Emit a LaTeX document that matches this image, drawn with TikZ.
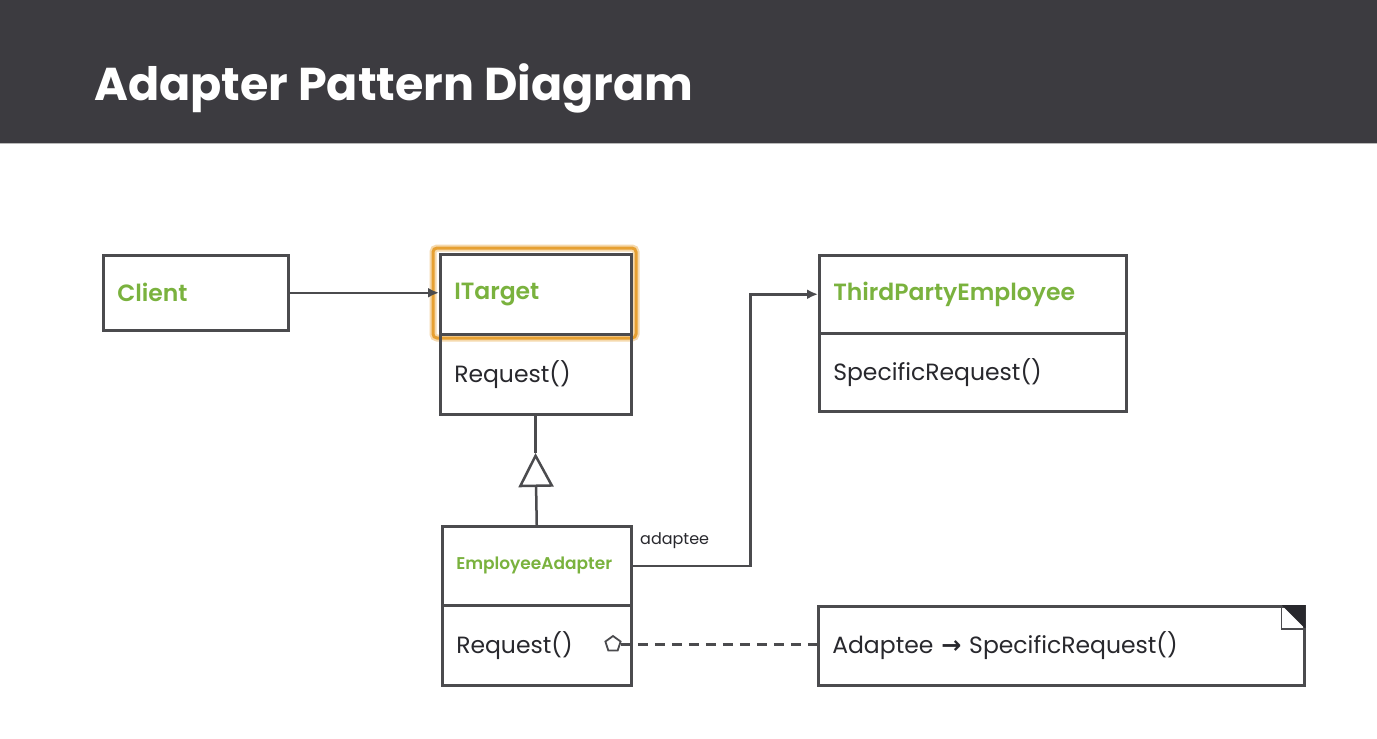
\documentclass[tikz,border=0pt]{standalone}
\usepackage{fontspec}
\setmainfont{Poppins}
\newfontfamily\pmed{Poppins SemiBold}
\newfontfamily\djv{DejaVu Sans}
\usetikzlibrary{arrows.meta,shapes.geometric}
\definecolor{hdr}{RGB}{60,59,64}
\definecolor{grn}{RGB}{122,178,62}
\definecolor{txt}{RGB}{40,40,45}
\definecolor{ln}{RGB}{75,75,78}
\definecolor{org}{RGB}{230,160,50}
\tikzset{
  cls/.style={draw=ln, line width=2.5pt, anchor=north west, inner xsep=14pt, inner ysep=0pt, align=left, text=txt},
  gname/.style={font=\pmed\fontsize{23.5}{28}\selectfont, text=grn},
  body/.style={font=\fontsize{23.5}{28}\selectfont},
  conn/.style={draw=ln, line width=2.5pt},
}
\begin{document}
\begin{tikzpicture}[x=1pt,y=-1pt]
\useasboundingbox (0,0) rectangle (1377,739);
\fill[white] (0,0) rectangle (1377,739);
\fill[hdr] (0,0) rectangle (1377,143);
\draw[gray!55, line width=1.5pt] (0,143.5) -- (1377,143.5);
\node[anchor=west, text=white, font=\bfseries\fontsize{46}{52}\selectfont, inner sep=0pt] (title) at (94,88) {Adapter Pattern Diagram};

% Client
\node[cls, gname, minimum width=185pt, minimum height=75pt, text width=157pt] (client) at (102,254) {Client};

% ITarget
\draw[org!40, line width=7pt, rounded corners=4pt] (433,248) rectangle (636,338);
\draw[org, line width=3pt, rounded corners=4pt] (433,248) rectangle (636,338);
\node[cls, gname, minimum width=191pt, minimum height=80pt, text width=163pt] (tgtA) at (439,253) {ITarget};
\node[cls, body, minimum width=191pt, minimum height=80pt, text width=163pt] (tgtB) at (439,333) {Request()};

% ThirdPartyEmployee
\node[cls, gname, minimum width=307pt, minimum height=78pt, text width=279pt] (tpeA) at (818,254) {ThirdPartyEmployee};
\node[cls, body, minimum width=307pt, minimum height=78pt, text width=279pt] (tpeB) at (818,332) {SpecificRequest()};

% EmployeeAdapter
\node[cls, gname, font=\pmed\fontsize{17}{20}\selectfont, minimum width=189pt, minimum height=79pt, text width=161pt] (adA) at (441,525) {EmployeeAdapter};
\node[cls, body, minimum width=189pt, minimum height=80pt, text width=161pt] (adB) at (441,604) {Request()};

% Note
\node[cls, body, minimum width=486pt, minimum height=79pt, text width=458pt] (note) at (817,605) {Adaptee {\djv\bfseries\fontsize{24}{26}\selectfont →} SpecificRequest()};
\fill[txt] ([xshift=-24pt]note.north east) -- (note.north east) -- ([yshift=-24pt]note.north east) -- cycle;
\draw[ln, line width=1.5pt] ([xshift=-24pt]note.north east) |- ([yshift=-24pt]note.north east);

% Client -> ITarget
\draw[conn, -{Latex[length=11pt,width=10pt]}] (client.east) -- (client.east -| tgtA.west);

% Generalization
\coordinate (tri) at (535.5,453);
\draw[conn, -{Triangle[open, length=34pt, width=35pt, fill=white]}] (adA.north) -- (tri);
\draw[conn] (tri) -- (tri |- tgtB.south);

% Association adaptee
\draw[conn, -{Latex[length=11pt,width=10pt]}] (adA.east) -- ++(118,0) |- (tpeA.west);
\node[font=\fontsize{16}{18}\selectfont, text=txt, anchor=west, inner sep=0pt] (lbl) at (640,541) {adaptee};

% Note connection
\node[regular polygon, regular polygon sides=5, draw=ln, line width=1.8pt, minimum size=16pt, inner sep=0pt, fill=white] (pent) at (613,644) {};
\draw[conn, line width=3pt, dash pattern=on 10pt off 7pt] (pent.east) -- (pent.east -| note.west);
\end{tikzpicture}
\end{document}
